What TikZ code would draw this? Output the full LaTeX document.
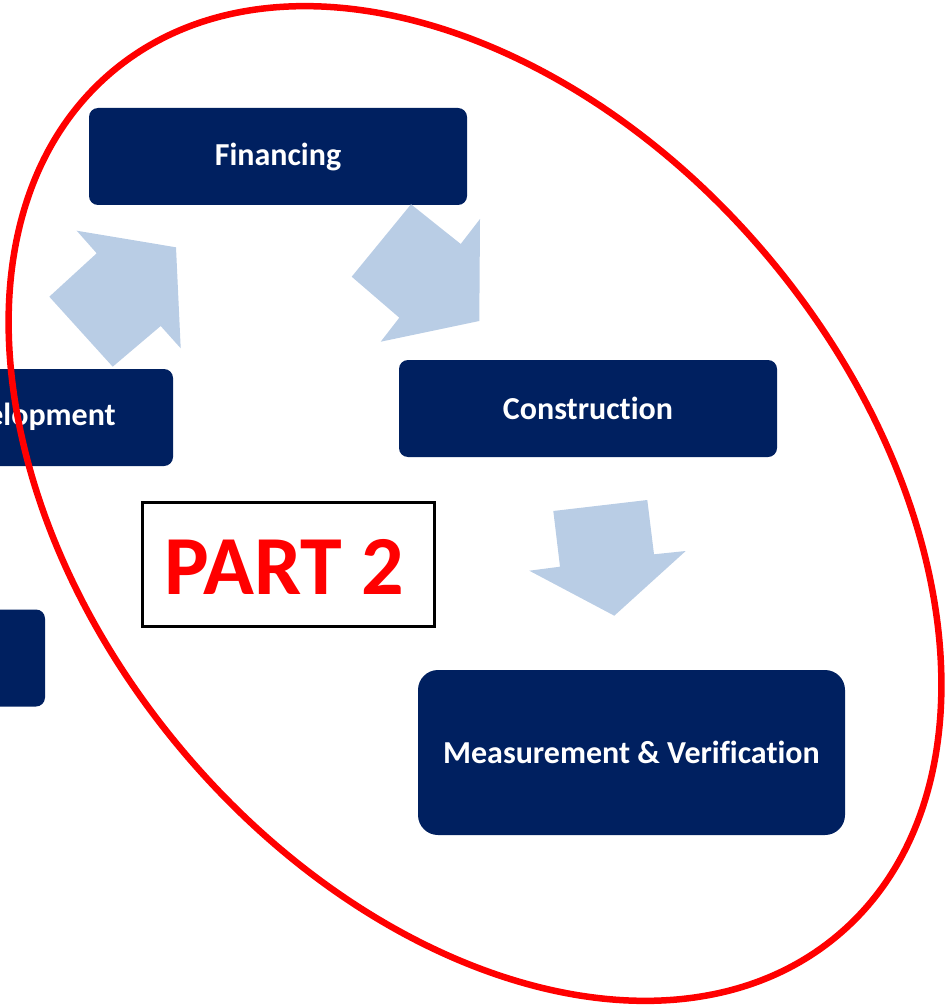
\documentclass[tikz,border=0pt]{standalone}
\usepackage{fontspec}
\setmainfont[RawFeature={-liga;-dlig;-clig}]{Carlito}
\definecolor{navy}{RGB}{0,32,96}
\definecolor{arrowblue}{RGB}{185,205,229}
\definecolor{pred}{RGB}{255,0,0}
\tikzset{
  stagebox/.style={fill=navy, draw=none, rounded corners=9pt, inner sep=0pt},
  stagetext/.style={text=white, font=\fontsize{32}{38}\selectfont\bfseries, inner sep=0pt},
  blockarrow/.style={fill=arrowblue, draw=none},
}
\begin{document}
\begin{tikzpicture}[x=1pt,y=-1pt]
\useasboundingbox (0,0) rectangle (948,1008);
% boxes
\node[stagebox, minimum width=378pt, minimum height=97pt] (fin) at (278,156.5) {};
\node[stagetext] (fintext) at (fin.center) {Financing};
\node[stagebox, minimum width=378pt, minimum height=97pt] (con) at (588,408.5) {};
\node[stagetext] (context) at (con.center) {Construction};
\node[stagebox, minimum width=378pt, minimum height=97pt] (dev) at (-16,417.5) {};
\node[stagetext, anchor=east] (devtext) at (116,417) {Development};
\node[stagebox, minimum width=378pt, minimum height=97pt] (left) at (-144,658) {};
\node[stagebox, rounded corners=20pt, minimum width=427pt, minimum height=165pt] (mv) at (631.5,752.5) {};
\node[stagetext] (mvtext) at (mv.center) {Measurement \& Verification};
% block arrows
\fill[blockarrow] (76.7,230.7) -- (176,247.3) -- (180.7,348.3) -- (160.7,326) -- (112.7,366.7) -- (49.3,296.7) -- (96.7,253.3) -- cycle;
\fill[blockarrow] (411,204.3) -- (460.7,244) -- (480,219) -- (479.3,321) -- (380.7,341.7) -- (399.3,317.7) -- (351.7,276.7) -- cycle;
\fill[blockarrow] (553.3,511) -- (647.3,500) -- (654,554.3) -- (685.7,551) -- (614.3,615.7) -- (529.3,570.7) -- (560,566.7) -- cycle;
% part 2 label
\node[draw=black, line width=3pt, fill=white, minimum width=292pt, minimum height=124pt, inner sep=0pt] (part) at (288,564.7) {};
\node[text=pred, font=\fontsize{84}{94}\selectfont\bfseries, inner sep=0pt] (parttext) at (284,567) {PART 2};
% ellipse
\coordinate (c) at (475,503.5);
\draw[pred, line width=6.5pt, rotate around={-50:(c)}] (c) ellipse [x radius=564pt, y radius=383pt];
\end{tikzpicture}
\end{document}
